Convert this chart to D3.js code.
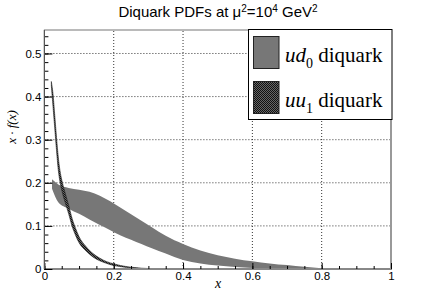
<!DOCTYPE html>
<html><head><meta charset="utf-8">
<script src="https://cdn.jsdelivr.net/npm/d3@7"></script>
<style>body{margin:0;background:#fff}svg{display:block}</style>
</head><body>
<svg id="c" width="436" height="299"></svg>
<script>
// ud0 diquark band
const ud0X     = [0.022,0.04,0.07,0.10,0.13,0.16,0.19,0.22,0.25,0.28,0.31,0.35,0.40,0.45,0.50,0.55,0.60,0.65,0.70,0.75,0.80,0.85];
const ud0Upper = [0.208,0.196,0.188,0.184,0.179,0.170,0.157,0.142,0.127,0.112,0.097,0.077,0.058,0.043,0.032,0.024,0.018,0.013,0.009,0.005,0.002,0.0005];
const ud0Lower = [0.186,0.155,0.140,0.128,0.115,0.102,0.090,0.078,0.068,0.058,0.048,0.036,0.021,0.013,0.008,0.0045,0.0025,0.0012,0.0005,0.0002,0.0,0.0];
// uu1 diquark band
const uu1X     = [0.02,0.025,0.03,0.035,0.04,0.045,0.05,0.06,0.07,0.08,0.09,0.10,0.12,0.14,0.16,0.18,0.20,0.22,0.25,0.28,0.32];
const uu1Upper = [0.435,0.405,0.355,0.305,0.26,0.228,0.207,0.176,0.148,0.117,0.094,0.075,0.052,0.036,0.025,0.017,0.012,0.008,0.0042,0.0019,0.0007];
const uu1Lower = [0.425,0.375,0.325,0.275,0.23,0.202,0.183,0.154,0.128,0.099,0.078,0.061,0.042,0.028,0.019,0.013,0.008,0.0055,0.0028,0.0011,0.0003];
const xTicks = [0,0.2,0.4,0.6,0.8,1];
const xTickLabels = ["0","0.2","0.4","0.6","0.8","1"];
const yTicks = [0,0.1,0.2,0.3,0.4,0.5];
const yTickLabels = ["0","0.1","0.2","0.3","0.4","0.5"];
const legendLabels = [["ud","0"],["uu","1"]];

const svg = d3.select("#c");
const L=44.4, R=391, T=30, B=269;
const x = d3.scaleLinear().domain([0,1]).range([L,R]);
const y = d3.scaleLinear().domain([0,0.5545]).range([B,T]);

const defs = svg.append("defs");
const pat = defs.append("pattern").attr("id","hatch").attr("patternUnits","userSpaceOnUse")
  .attr("width",2).attr("height",2);
pat.append("rect").attr("width",2).attr("height",2).attr("fill","#666");
pat.append("rect").attr("width",1).attr("height",1).attr("fill","#111");
pat.append("rect").attr("x",1).attr("y",1).attr("width",1).attr("height",1).attr("fill","#111");

// grid
const g = svg.append("g");
g.selectAll(".gx").data(xTicks.slice(1,-1)).enter().append("line")
  .attr("x1",d=>x(d)).attr("x2",d=>x(d)).attr("y1",B).attr("y2",T)
  .attr("stroke","#000").attr("stroke-width",0.8).attr("stroke-dasharray","1,2");
g.selectAll(".gy").data(yTicks.slice(1)).enter().append("line")
  .attr("x1",L).attr("x2",R).attr("y1",d=>y(d)).attr("y2",d=>y(d))
  .attr("stroke","#000").attr("stroke-width",0.8).attr("stroke-dasharray","1,2");

// bands
const area = (xs,up,lo)=>d3.area().x((d,i)=>x(xs[i])).y0((d,i)=>y(lo[i])).y1((d,i)=>y(up[i])).curve(d3.curveMonotoneX)(xs);
svg.append("path").attr("d",area(ud0X,ud0Upper,ud0Lower)).attr("fill","#777");
svg.append("path").attr("d",area(uu1X,uu1Upper,uu1Lower)).attr("fill","url(#hatch)").attr("stroke","#222").attr("stroke-width",0.6);

// frame
svg.append("rect").attr("x",L).attr("y",T).attr("width",R-L).attr("height",B-T)
  .attr("fill","none").attr("stroke","#777").attr("stroke-width",1);
svg.append("line").attr("x1",L).attr("x2",R+1).attr("y1",B).attr("y2",B).attr("stroke","#888").attr("stroke-width",2);
svg.append("line").attr("x1",R).attr("x2",R).attr("y1",T).attr("y2",B).attr("stroke","#999").attr("stroke-width",2);

// axes
const xAxis = d3.axisBottom(x).tickValues(xTicks).tickFormat((d,i)=>xTickLabels[i]).tickSize(-6).tickPadding(3);
const xMinor = d3.axisBottom(x).tickValues(d3.range(0,1.0001,0.05)).tickFormat("").tickSize(-3);
const gx = svg.append("g").attr("transform",`translate(0,${B})`).call(xMinor);
const gx2 = svg.append("g").attr("transform",`translate(0,${B})`).call(xAxis);
const yAxis = d3.axisLeft(y).tickValues(yTicks).tickFormat((d,i)=>yTickLabels[i]).tickSize(-8).tickPadding(3);
const yMinor = d3.axisLeft(y).tickValues(d3.range(0,0.5545,0.02)).tickFormat("").tickSize(-4);
const gy = svg.append("g").attr("transform",`translate(${L},0)`).call(yMinor);
const gy2 = svg.append("g").attr("transform",`translate(${L},0)`).call(yAxis);
[gx,gx2,gy,gy2].forEach(a=>{a.select(".domain").remove();a.selectAll("line").attr("stroke","#000");
  a.selectAll("text").attr("font-family","Liberation Sans, Arial, sans-serif").attr("font-size","11.5px").attr("fill","#000");});
svg.append("line").attr("x1",L).attr("x2",L).attr("y1",T).attr("y2",B).attr("stroke","#555").attr("stroke-width",1.2);

// title
const t = svg.append("text").attr("x",218).attr("y",17).attr("text-anchor","middle")
  .attr("font-family","Liberation Sans, Arial, sans-serif").attr("font-size","15px").attr("fill","#000");
t.append("tspan").text("Diquark PDFs at \u03bc");
t.append("tspan").attr("dy",-5).attr("font-size","10px").text("2");
t.append("tspan").attr("dy",5).text("=10");
t.append("tspan").attr("dy",-5).attr("font-size","10px").text("4");
t.append("tspan").attr("dy",5).text(" GeV");
t.append("tspan").attr("dy",-5).attr("font-size","10px").text("2");

// axis titles
svg.append("text").attr("x",218).attr("y",288).attr("text-anchor","middle")
  .attr("font-family","Liberation Serif, Times New Roman, serif").attr("font-style","italic")
  .attr("font-size","14px").text("x");
svg.append("text").attr("transform","translate(16,127) rotate(-90)").attr("text-anchor","middle")
  .attr("font-family","Liberation Serif, Times New Roman, serif").attr("font-style","italic")
  .attr("font-size","13px").text("x \u00b7 f(x)");

// legend
const lg = svg.append("g");
lg.append("rect").attr("x",248.5).attr("y",29.5).attr("width",143.5).attr("height",90)
  .attr("fill","#fff").attr("stroke","#000").attr("stroke-width",1);
const fills = ["#777","url(#hatch)"];
const rowY = [36,81];
legendLabels.forEach((lab,i)=>{
  lg.append("rect").attr("x",253.5).attr("y",rowY[i]+0.5).attr("width",25.5).attr("height",32)
    .attr("fill",fills[i]).attr("stroke","#222").attr("stroke-width",1);
  const tx = lg.append("text").attr("x",285).attr("y",rowY[i]+26)
    .attr("font-family","Liberation Serif, Times New Roman, serif").attr("font-size","21px").attr("fill","#000");
  tx.append("tspan").attr("font-style","italic").text(lab[0]);
  tx.append("tspan").attr("dy",6).attr("font-size","14px").text(lab[1]);
  tx.append("tspan").attr("dy",-6).text(" diquark");
});
</script>
</body></html>
